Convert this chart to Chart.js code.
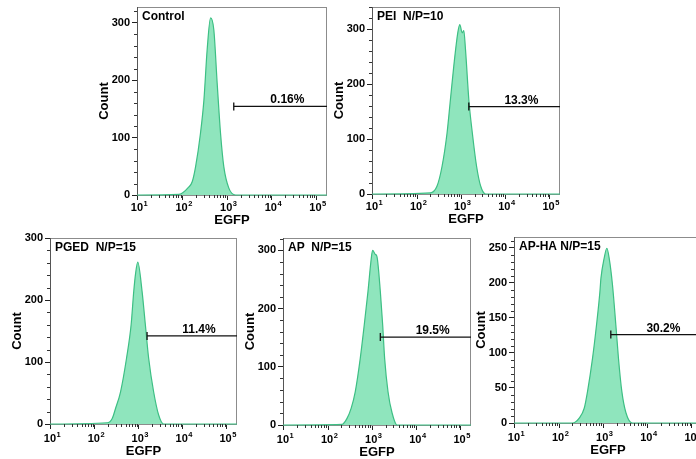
<!DOCTYPE html>
<html>
<head>
<meta charset="utf-8">
<script src="https://cdn.jsdelivr.net/npm/chart.js@4.4.1/dist/chart.umd.min.js"></script>
<style>
  html, body { margin: 0; padding: 0; background: #fff; }
  body { width: 696px; height: 459px; position: relative; overflow: hidden; }
  canvas { position: absolute; }
</style>
</head>
<body>
<canvas id="c0"></canvas>
<canvas id="c1"></canvas>
<canvas id="c2"></canvas>
<canvas id="c3"></canvas>
<canvas id="c4"></canvas>
<script>
(() => {
	'use strict'

	// axis + labels
	const xMin = 9.5, xMax = 172000
	const xTicks = [10, 100, 1000, 10000, 100000]
	const xTickExp = ['1', '2', '3', '4', '5']
	const panelTitles = ['Control', 'PEI  N/P=10', 'PGED  N/P=15', 'AP  N/P=15', 'AP-HA N/P=15']
	const gatePercent = ['0.16%', '13.3%', '11.4%', '19.5%', '30.2%']
	const gateStart = [1400, 1480, 1540, 1520, 1480]
	const gateCount = [154, 159, 142, 151, 126]
	const yMax = [327, 340, 300, 321, 265]
	const yStep = [100, 100, 100, 100, 50]

	// histograms (EGFP intensity, cell count)
	const controlEGFP = [9, 83, 138, 164, 195, 251, 300, 355, 423, 501, 594, 708, 839, 1086, 1535, 200000]
	const controlCount = [0, 1, 14, 23, 49, 107, 165, 253, 308, 287, 195, 107, 49, 12, 0, 0]

	const peiEGFP = [9, 198, 281, 366, 476, 566, 675, 832, 925, 1047, 1140, 1247, 1483, 1778, 2223, 2754, 3548, 200000]
	const peiCount = [0, 2, 14, 50, 111, 171, 232, 293, 308, 293, 297, 262, 171, 111, 50, 14, 0, 0]

	const pgedEGFP = [9, 191, 248, 295, 384, 525, 668, 767, 838, 946, 1186, 1409, 1675, 2173, 2818, 3656, 200000]
	const pgedCount = [0, 2, 9, 25, 52, 106, 160, 214, 241, 261, 214, 160, 106, 52, 15, 0, 0]

	const apEGFP = [9, 205, 266, 333, 411, 533, 658, 798, 948, 1016, 1169, 1276, 1521, 1718, 1905, 2270, 2799, 3631, 200000]
	const apCount = [0, 1, 11, 29, 57, 114, 172, 229, 286, 300, 293, 289, 229, 172, 114, 57, 21, 0, 0]

	const aphaEGFP = [9, 201, 285, 370, 440, 570, 703, 838, 883, 1047, 1205, 1358, 1614, 1923, 2208, 2630, 3243, 4571, 200000]
	const aphaCount = [0, 0, 7, 21, 45, 92, 140, 187, 206, 235, 249, 235, 197, 140, 92, 45, 15, 0, 0]

	const series = [
		[controlEGFP, controlCount],
		[peiEGFP, peiCount],
		[pgedEGFP, pgedCount],
		[apEGFP, apCount],
		[aphaEGFP, aphaCount]
	]

	// plot area on the page: left, top, right, bottom
	const boxes = [
		[137, 7, 327, 195],
		[372, 7, 560, 194],
		[50, 238, 237, 424],
		[283, 238, 471, 425],
		[514, 237, 702, 423]
	]

	const FONT = "'Liberation Sans', Arial, sans-serif"
	const FILL = '#8fe5bd'
	const LINE = '#3dbf84'

	const decor = {
		id: 'decor',
		beforeDatasetsDraw(chart) {
			const { ctx, chartArea: a } = chart
			ctx.save()
			ctx.strokeStyle = '#8c8c8c'
			ctx.lineWidth = 1
			ctx.strokeRect(a.left + 0.5, a.top + 0.5, a.right - a.left - 1, a.bottom - a.top)
			ctx.strokeStyle = '#555'
			ctx.beginPath()
			ctx.moveTo(a.left + 0.5, a.top)
			ctx.lineTo(a.left + 0.5, a.bottom + 1)
			ctx.stroke()
			ctx.restore()
		},
		afterDraw(chart, args, opts) {
			const { ctx, chartArea: a, scales: { x, y } } = chart
			const i = opts.idx
			ctx.save()
			ctx.strokeStyle = '#333'
			ctx.lineWidth = 1

			// minor ticks on x (log)
			ctx.beginPath()
			for (let d = 10; d < xMax; d *= 10) {
				for (let m = 2; m <= 9; m++) {
					const v = m * d
					if (v > xMax) break
					const px = Math.round(x.getPixelForValue(v)) + 0.5
					ctx.moveTo(px, a.bottom)
					ctx.lineTo(px, a.bottom + 3)
				}
			}
			// minor ticks on y
			const st = yStep[i] / 5
			for (let v = st; v <= yMax[i]; v += st) {
				if (Math.abs(v / yStep[i] - Math.round(v / yStep[i])) < 1e-6) continue
				const py = Math.round(y.getPixelForValue(v)) + 0.5
				ctx.moveTo(a.left, py)
				ctx.lineTo(a.left - 3, py)
			}
			ctx.stroke()

			// x tick labels 10^n
			ctx.fillStyle = '#000'
			ctx.textBaseline = 'middle'
			ctx.textAlign = 'left'
			const ly = a.bottom + (i < 2 ? 12.5 : 14.5)
			xTicks.forEach((v, k) => {
				const px = x.getPixelForValue(v)
				ctx.font = 'bold 11px ' + FONT
				const wb = ctx.measureText('10').width
				ctx.font = 'bold 7.5px ' + FONT
				const we = ctx.measureText(xTickExp[k]).width
				const x0 = px - (wb + we) / 2 + 1
				ctx.font = 'bold 11px ' + FONT
				ctx.fillText('10', x0, ly)
				ctx.font = 'bold 7.5px ' + FONT
				ctx.fillText(xTickExp[k], x0 + wb + 0.5, ly - 4)
			})

			// panel title
			ctx.font = 'bold 12px ' + FONT
			ctx.fillText(panelTitles[i], a.left + 5, a.top + 10)

			// gate label
			const gx = x.getPixelForValue(gateStart[i])
			const gy = y.getPixelForValue(gateCount[i])
			ctx.textAlign = 'center'
			ctx.textBaseline = 'alphabetic'
			ctx.fillText(gatePercent[i], (gx + a.right) / 2 + 7, gy - 3)
			ctx.restore()
		}
	}

	boxes.forEach((b, i) => {
		const [L, T, R, B] = b
		const xh = i < 2 ? 33 : 35
		const cv = document.getElementById('c' + i)
		cv.width = R - L + 40 + 10
		cv.height = B - T + 10 + xh
		cv.style.left = (L - 40) + 'px'
		cv.style.top = (T - 10) + 'px'

		const [egfp, count] = series[i]

		new Chart(cv, {
			type: 'line',
			data: {
				datasets: [{
					// gate marker, drawn on top of the histogram
					data: [{ x: gateStart[i], y: gateCount[i] }, { x: xMax, y: gateCount[i] }],
					order: 0,
					borderColor: '#111',
					borderWidth: 1.3,
					pointStyle: 'line',
					pointRotation: 90,
					pointRadius: [4, 0],
					pointBorderColor: '#111',
					pointBorderWidth: 1.3,
					fill: false,
					tension: 0
				}, {
					data: egfp.map((v, j) => ({ x: v, y: count[j] })),
					order: 1,
					borderColor: LINE,
					borderWidth: 1.2,
					backgroundColor: FILL,
					fill: 'origin',
					pointRadius: 0,
					tension: 0.4,
					cubicInterpolationMode: 'monotone',
					clip: { left: 0, top: 5, right: 0, bottom: 2 }
				}]
			},
			options: {
				responsive: false,
				animation: false,
				layout: { padding: { left: 0, top: 10, right: 10, bottom: 0 } },
				plugins: {
					legend: { display: false },
					tooltip: { enabled: false },
					decor: { idx: i }
				},
				scales: {
					x: {
						type: 'logarithmic',
						min: xMin,
						max: xMax,
						border: { display: false },
						grid: { drawOnChartArea: false, tickLength: 5, tickColor: '#222' },
						ticks: { display: false },
						afterBuildTicks: s => { s.ticks = xTicks.map(v => ({ value: v })) },
						afterFit: s => {
							s.height = xh
							s.paddingLeft = 0; s.paddingRight = 0
						},
						title: {
							display: true,
							text: 'EGFP',
							color: '#000',
							padding: 0,
							font: { family: FONT, size: 13, weight: 'bold' }
						}
					},
					y: {
						min: 0,
						max: yMax[i],
						border: { display: false },
						grid: { drawOnChartArea: false, tickLength: 5, tickColor: '#222' },
						ticks: {
							stepSize: yStep[i],
							includeBounds: false,
							padding: 2,
							color: '#000',
							font: { family: FONT, size: 11, weight: 'bold' }
						},
						afterFit: s => {
							s.width = 40
							s.paddingTop = 0; s.paddingBottom = 0
						},
						title: {
							display: true,
							text: 'Count',
							color: '#000',
							padding: 0,
							font: { family: FONT, size: 13, weight: 'bold' }
						}
					}
				}
			},
			plugins: [decor]
		})
	})
})()
</script>
</body>
</html>
